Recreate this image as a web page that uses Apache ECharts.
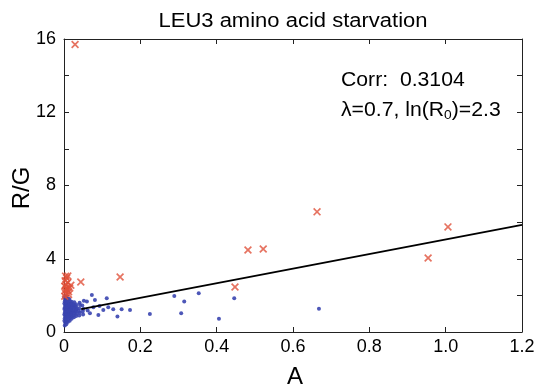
<!DOCTYPE html>
<html><head><meta charset="utf-8">
<script src="https://cdn.jsdelivr.net/npm/echarts@6/dist/echarts.min.js"></script>
<style>html,body{margin:0;padding:0;background:#fff}#c{width:534px;height:391px}</style>
</head><body><div id="c"></div>
<script>
// ----- data -----
var titleText = 'LEU3 amino acid starvation';
var xTicks = [0, 0.2, 0.4, 0.6, 0.8, 1.0, 1.2];
var yTicks = [0, 4, 8, 12, 16];
// blue points [A, R/G]
var bluePoints = [
 [0.002,0.35],[0.003,0.5],[0.001,0.62],[0.002,0.75],[0.003,0.88],[0.001,0.96],[0.002,1.05],[0.003,1.15],[0.001,1.25],[0.002,1.33],[0.003,1.45],[0.001,1.55],[0.002,1.66],[0.003,1.78],[0.001,1.9],
 [0.006,0.42],[0.007,0.57],[0.005,0.7],[0.006,0.82],[0.007,0.93],[0.005,1.02],[0.006,1.12],[0.007,1.2],[0.005,1.3],[0.006,1.4],[0.007,1.5],[0.005,1.62],[0.006,1.72],[0.007,1.85],[0.005,1.96],
 [0.010,0.55],[0.011,0.68],[0.009,0.8],[0.010,0.9],[0.011,1.0],[0.009,1.1],[0.010,1.18],[0.011,1.28],[0.009,1.38],[0.010,1.48],[0.011,1.58],[0.009,1.7],[0.010,1.82],
 [0.015,0.62],[0.016,0.78],[0.014,0.88],[0.015,0.98],[0.016,1.08],[0.014,1.16],[0.015,1.26],[0.016,1.36],[0.014,1.46],[0.015,1.56],[0.016,1.68],[0.014,1.8],
 [0.020,0.72],[0.021,0.85],[0.019,0.95],[0.020,1.05],[0.021,1.14],[0.019,1.24],[0.020,1.34],[0.021,1.44],[0.019,1.55],[0.020,1.65],
 [0.026,0.8],[0.025,0.92],[0.027,1.03],[0.026,1.12],[0.025,1.22],[0.027,1.32],[0.026,1.42],[0.025,1.52],[0.027,1.63],
 [0.032,0.88],[0.033,1.0],[0.031,1.1],[0.032,1.2],[0.033,1.3],[0.031,1.4],[0.032,1.5],
 [0.040,0.9],[0.041,1.05],[0.039,1.15],[0.040,1.28],[0.042,1.48],[0.041,1.6],
 [0.050,0.95],[0.049,1.12],[0.051,1.25],[0.048,1.45],[0.052,1.7],
 [0.060,1.66],[0.062,1.18],[0.068,1.02],[0.073,2.02],[0.077,1.35],[0.081,1.75],[0.090,0.93],[0.093,1.42],
 [0.103,1.2],[0.112,1.84],[0.116,1.35],[0.129,1.24],[0.140,0.84],[0.151,1.24],[0.173,1.2],
 [0.225,0.98],[0.289,1.97],[0.307,1.02],[0.315,1.66],[0.353,2.11],[0.406,0.73],[0.446,1.84],[0.668,1.27]
];
// red outliers [A, R/G]
var redPoints = [
 [0.002,1.95],[0.004,2.1],[0.003,2.25],[0.006,2.35],[0.002,2.5],[0.008,2.45],[0.005,2.6],[0.012,2.2],
 [0.010,2.7],[0.003,2.8],[0.015,2.4],[0.007,2.95],[0.018,2.55],[0.004,3.05],[0.012,2.05],[0.009,2.3],
 [0.010,3.06],[0.029,15.7],[0.044,2.73],[0.147,3.0],[0.448,2.46],[0.482,4.48],[0.522,4.53],
 [0.663,6.56],[0.954,4.04],[1.006,5.74]
];
// regression line endpoints
var fitX = [0.045, 1.2];
var fitY = [1.25, 5.85];
var corrText = 'Corr:  0.3104';

// ----- chart -----
var chart = echarts.init(document.getElementById('c'), null, {renderer: 'canvas'});
var FONT = 'Liberation Sans, Arial, sans-serif';
var axisCol = '#222';
var xPath = 'path://M0,1.5L1.5,0L10,8.5L8.5,10Z M8.5,0L10,1.5L1.5,10L0,8.5Z';
function xAx(pos, showLabel) {
  return {
    type: 'value', position: pos, min: 0, max: 1.2, interval: 0.2,
    axisLine: {show: true, onZero: false, lineStyle: {color: axisCol, width: 1}},
    axisTick: {show: true, inside: true, length: 5, lineStyle: {color: axisCol}},
    axisLabel: {show: showLabel, margin: 6, fontFamily: FONT, fontSize: 18, color: '#000',
      formatter: function (v) { var r = Math.round(v*10)/10; return xTicks.indexOf(r) < 0 ? '' : (r === 0 ? '0' : r.toFixed(1)); }},
    splitLine: {show: false}
  };
}
function yAx(pos, showLabel) {
  return {
    type: 'value', position: pos, min: 0, max: 16, interval: 2,
    axisLine: {show: true, onZero: false, lineStyle: {color: axisCol, width: 1}},
    axisTick: {show: true, inside: true, length: 5, lineStyle: {color: axisCol}},
    axisLabel: {show: showLabel, margin: 8, fontFamily: FONT, fontSize: 18, color: '#000',
      formatter: function (v) { return yTicks.indexOf(v) < 0 ? '' : String(v); }},
    splitLine: {show: false}
  };
}
var fitData = fitX.map(function (x, i) { return [x, fitY[i]]; });
chart.setOption({
  animation: false,
  backgroundColor: '#fff',
  grid: {left: 64, right: 12, top: 39, bottom: 59, containLabel: false, outerBoundsMode: 'none'},
  xAxis: [xAx('bottom', true), xAx('top', false)],
  yAxis: [yAx('left', true), yAx('right', false)],
  graphic: [
    {type: 'text', x: 293, y: 21, scaleX: 1.1, style: {text: titleText, fontFamily: FONT, fontSize: 20, fill: '#000', align: 'center', verticalAlign: 'middle'}},
    {type: 'text', x: 295, y: 377, style: {text: 'A', fontFamily: FONT, fontSize: 24, fill: '#000', align: 'center', verticalAlign: 'middle'}},
    {type: 'text', x: 22, y: 188, rotation: Math.PI/2, style: {text: 'R/G', fontFamily: FONT, fontSize: 24, fill: '#000', align: 'center', verticalAlign: 'middle'}},
    {type: 'text', x: 341, y: 80, scaleX: 1.06, style: {text: corrText, fontFamily: FONT, fontSize: 20, fill: '#000', verticalAlign: 'middle'}},
    {type: 'text', x: 341, y: 110, scaleX: 1.06, style: {
      text: '{a|λ=0.7, ln(R}{s|0}{a|)=2.3}', verticalAlign: 'middle',
      rich: {a: {fontFamily: FONT, fontSize: 20, color: '#000'},
             s: {fontFamily: FONT, fontSize: 13, color: '#000', padding: [11, 0, 0, 0]}}}}
  ],
  series: [
    {type: 'scatter', xAxisIndex: 0, yAxisIndex: 0, data: bluePoints, symbol: 'circle', symbolSize: 4,
     itemStyle: {color: '#3a45b0', opacity: 0.9}, z: 2},
    {type: 'scatter', xAxisIndex: 0, yAxisIndex: 0, data: redPoints, symbol: xPath, symbolSize: 8,
     itemStyle: {color: '#e0503a'}, z: 3},
    {type: 'line', xAxisIndex: 0, yAxisIndex: 0, data: fitData, symbol: 'none',
     lineStyle: {color: '#000', width: 2}, z: 4}
  ]
});
</script></body></html>
